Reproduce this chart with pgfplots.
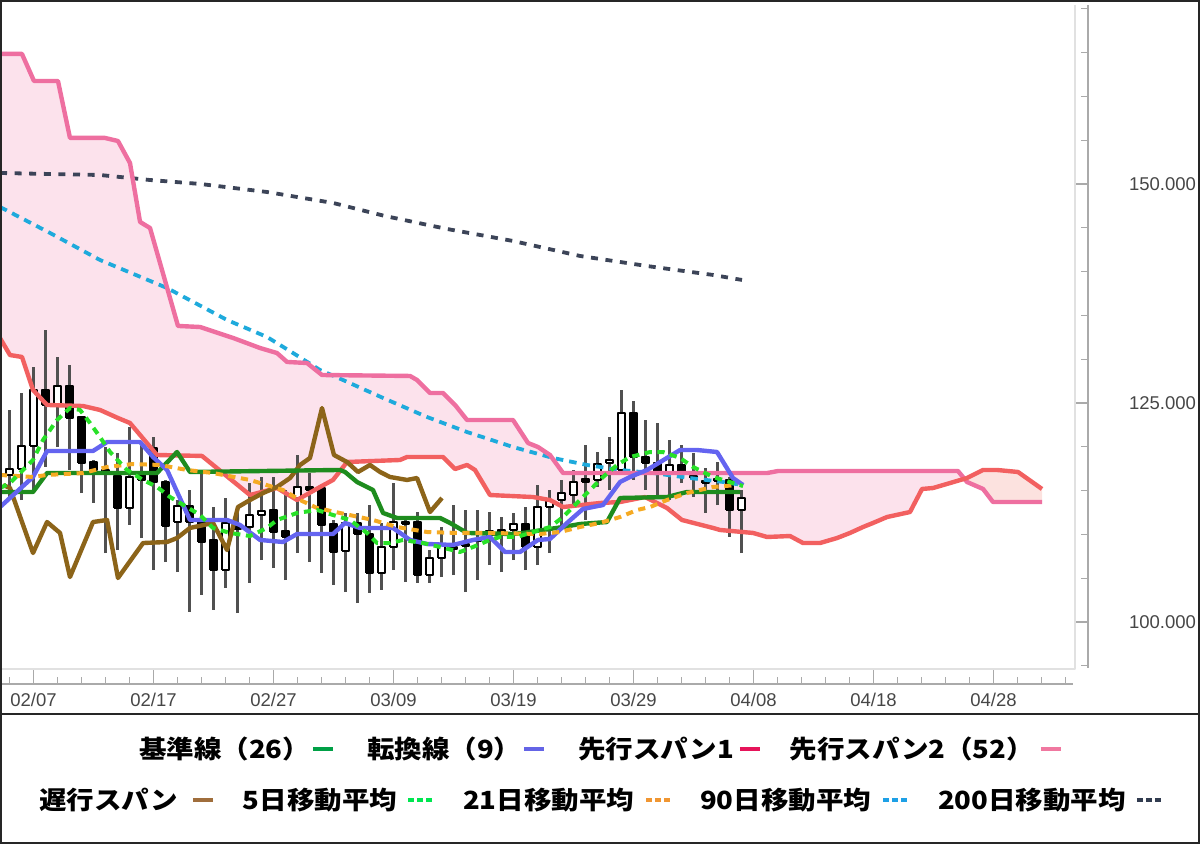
\documentclass[border=0pt]{standalone}
\usepackage{pgfplots}
\pgfplotsset{compat=1.18}
\usepgfplotslibrary{fillbetween}
\usepackage{pgfplotstable}
\usepackage{fontspec}
\setmainfont{Liberation Sans}
\newfontfamily\jp{Noto Sans CJK JP}[FakeStretch=1.1]

\definecolor{spanA}{RGB}{242,96,96}
\definecolor{spanB}{RGB}{238,111,160}
\definecolor{kijun}{RGB}{30,140,30}
\definecolor{tenkan}{RGB}{100,100,240}
\definecolor{chikou}{RGB}{140,100,25}
\definecolor{maF}{RGB}{40,225,40}
\definecolor{maT}{RGB}{245,170,35}
\definecolor{maN}{RGB}{30,170,220}
\definecolor{maH}{RGB}{60,68,88}
\definecolor{wick}{RGB}{80,80,80}
\definecolor{cloudB}{RGB}{240,110,160}
\definecolor{cloudA}{RGB}{242,110,96}
\definecolor{labgray}{RGB}{70,70,70}
\definecolor{axgray}{RGB}{170,170,170}
\definecolor{faint}{RGB}{225,225,225}
\definecolor{LkijunC}{RGB}{0,160,70}
\definecolor{LtenkanC}{RGB}{100,100,230}
\definecolor{LspanAC}{RGB}{230,20,90}
\definecolor{LspanBC}{RGB}{240,120,160}
\definecolor{LchikouC}{RGB}{160,110,60}
\definecolor{LmaF}{RGB}{0,230,80}
\definecolor{LmaT}{RGB}{240,150,50}
\definecolor{LmaN}{RGB}{30,160,230}
\definecolor{LmaH}{RGB}{50,60,80}

% candle: position, low, body bottom, body top, high, fill
\newcommand{\candle}[6]{%
  \pgfmathsetmacro\xa{#1-0.3}\pgfmathsetmacro\xb{#1+0.3}%
  \edef\tmpcandle{%
    \noexpand\addplot[wick, line width=1.1pt] coordinates {(#1,#2) (#1,#5)};
    \noexpand\addplot[draw=black, fill=#6, line width=0.65pt] coordinates {(\xa,#3) (\xb,#3) (\xb,#4) (\xa,#4) (\xa,#3)};}%
  \tmpcandle}
\newcommand{\ldash}[1]{\textcolor{#1}{\rule[\dimexpr0.38em-1pt\relax]{10pt}{2pt}}}
\newcommand{\ddash}[1]{\textcolor{#1}{\rule[\dimexpr0.38em-1pt\relax]{3pt}{2pt}\hspace{1.5pt}\rule[\dimexpr0.38em-1pt\relax]{3pt}{2pt}\hspace{1.5pt}\rule[\dimexpr0.38em-1pt\relax]{3pt}{2pt}}}

\pgfplotstableread{
x y
-2.79 164.84
-0.96 164.84
0.04 161.75
2.04 161.75
3.04 155.25
5.96 155.25
7.04 154.90
8.04 152.39
8.88 145.66
9.71 144.97
12.04 133.79
13.88 133.67
16.63 132.42
18.88 131.27
20.29 130.70
21.13 129.68
22.79 129.56
24.04 128.19
31.38 128.08
31.96 127.62
33.04 126.14
34.13 126.14
35.13 124.77
36.13 123.05
39.96 123.05
41.21 120.43
42.04 119.97
43.04 119.06
44.13 117.00
61.13 117.00
62.04 117.23
77.04 117.23
77.79 115.98
79.13 115.18
79.96 113.69
84.04 113.69
}\spanBtab

\pgfplotstableread{
x y
-2.79 132.40
-1.96 130.47
-0.96 130.25
-0.04 126.48
1.13 124.77
4.13 124.65
5.54 124.20
7.04 123.28
8.04 122.71
10.29 119.06
14.04 118.95
18.04 114.49
20.29 115.29
21.96 113.92
23.88 115.41
24.96 116.21
26.13 118.26
30.54 118.49
31.13 118.83
34.13 118.83
35.13 117.46
36.13 117.92
36.79 117.35
38.04 114.49
41.63 114.26
43.04 113.92
44.13 113.12
47.21 113.58
48.88 113.69
50.96 114.26
52.79 113.01
54.04 111.64
56.63 110.73
57.21 110.50
59.96 110.16
61.13 109.70
63.04 109.81
64.13 109.01
65.54 109.01
66.96 109.58
68.04 110.16
69.13 110.84
69.96 111.30
71.13 111.98
73.04 112.55
74.04 115.18
74.96 115.29
76.38 115.86
77.79 116.43
79.13 117.35
80.29 117.35
82.04 117.12
84.04 115.18
}\spanAtab

\pgfplotstableread{
x y
-2.79 114.84
-0.04 114.84
1.13 117.00
10.29 117.00
11.96 119.40
13.04 117.12
25.54 117.35
25.96 117.12
26.96 115.98
28.29 115.06
29.13 112.44
30.29 111.87
33.88 111.87
34.71 111.30
36.13 110.16
39.96 110.04
40.79 110.16
44.13 110.84
45.54 111.18
47.79 111.41
48.88 114.15
52.79 114.26
54.46 114.84
58.88 114.84
}\kijuntab

\pgfplotstableread{
x y
-2.79 113.12
-0.04 116.55
1.13 119.52
4.96 119.52
6.13 120.54
8.88 120.54
9.96 118.83
11.13 117.35
13.04 111.64
16.13 111.64
17.21 111.07
18.88 109.36
20.79 109.13
21.96 110.04
24.96 110.04
25.96 111.30
27.21 110.73
29.96 110.73
31.38 109.36
32.79 108.90
34.96 108.79
36.63 109.36
38.04 109.70
39.29 107.99
40.54 107.99
42.04 109.36
43.04 109.47
44.46 111.30
45.79 112.90
47.46 113.35
48.88 115.98
49.71 116.55
51.13 117.35
53.88 119.63
55.29 119.63
56.96 119.40
58.29 116.43
59.13 115.63
}\tenkantab

\pgfplotstableread{
x y
-2.54 115.63
-1.96 115.29
-0.04 107.87
1.13 111.41
2.21 110.16
3.04 105.13
4.96 111.41
6.13 111.64
7.04 105.02
9.13 109.01
11.13 109.13
11.96 109.58
13.04 110.73
14.96 111.30
16.13 108.21
17.04 113.12
18.04 113.92
19.13 114.72
20.29 115.41
21.38 116.43
22.21 117.92
23.04 118.72
24.04 124.42
25.04 119.06
26.13 118.26
27.04 117.12
28.04 117.92
28.88 117.12
29.71 116.55
31.13 116.21
31.96 116.43
33.04 112.55
34.04 114.15
}\chikoutab

\pgfplotstableread{
x y
-2.79 115.29
-1.96 115.86
-0.04 118.49
0.79 120.77
1.96 123.05
3.04 124.42
3.88 124.20
4.71 122.71
5.54 121.11
6.38 119.40
7.79 117.35
9.13 116.21
10.29 115.41
11.38 114.26
12.79 113.12
13.88 112.21
14.96 110.73
16.38 110.16
18.04 109.81
19.46 110.73
20.29 111.64
21.96 112.44
23.63 112.78
24.96 112.21
26.38 111.64
27.79 110.16
28.63 109.01
29.71 109.01
30.79 109.36
32.46 109.01
33.88 108.56
35.54 107.99
36.63 108.56
38.04 109.36
38.88 109.70
40.29 109.70
41.38 110.16
43.04 110.84
44.13 111.98
45.29 113.58
46.38 115.06
47.46 116.55
48.63 117.92
49.71 118.83
51.38 119.40
52.46 119.40
53.88 118.72
54.96 117.69
56.63 116.55
58.29 115.86
59.13 115.52
}\maFtab

\pgfplotstableread{
x y
-2.79 116.78
-0.04 116.55
1.13 116.78
4.13 117.00
6.13 117.69
8.29 118.03
10.54 117.92
12.79 117.35
14.96 117.00
18.04 116.21
20.79 115.06
22.21 113.92
23.63 113.01
25.54 112.44
28.29 111.64
30.29 110.84
32.79 110.27
35.29 110.16
38.04 110.16
42.21 110.04
43.88 110.27
45.54 110.84
47.21 111.30
48.88 111.98
50.29 112.78
51.38 113.12
52.79 113.92
54.46 114.72
56.63 115.41
58.63 115.63
}\maTtab

\pgfplotstableread{
x y
-2.79 147.37
1.38 144.40
5.54 141.32
11.13 138.12
16.13 134.47
19.46 132.53
21.63 130.70
23.88 128.76
25.79 127.62
29.13 125.57
32.79 123.40
36.13 121.68
39.96 119.97
43.29 118.72
46.13 117.92
48.88 117.35
51.63 117.00
54.71 116.43
57.46 115.98
59.13 115.63
}\maNtab

\pgfplotstableread{
x y
-2.79 151.25
5.54 151.02
9.71 150.45
13.88 150.00
19.46 149.08
24.96 147.83
29.29 146.34
34.46 144.86
39.96 143.49
45.54 141.78
51.13 140.63
56.63 139.61
59.04 139.04
}\maHtab

\begin{document}
\begin{tikzpicture}
\begin{axis}[
  at={(0pt,80pt)}, anchor=south west,
  width=544pt, height=342pt, scale only axis,
  xmin=-2.7917, xmax=87.875, ymin=92.92, ymax=171,
  clip=false,
  axis line style={draw=none},
  axis x line*=bottom, axis y line*=right,
  xtick={0,10,...,80},
  xticklabels={02/07,02/17,02/27,03/09,03/19,03/29,04/08,04/18,04/28},
  minor xtick={-2,0,...,86},
  ytick={100,125,150},
  yticklabels={100.000,125.000,150.000},
  minor ytick={95,100,...,170},
  tick align=inside,
  major tick length=7.25pt, minor tick length=3.5pt,
  major tick style={axgray, line width=0.6pt},
  minor tick style={axgray, line width=0.6pt},
  xticklabel style={font=\fontsize{9.25}{10}\selectfont, text=labgray, yshift=-1pt},
  yticklabel style={font=\fontsize{9.25}{10}\selectfont, text=labgray, anchor=west, xshift=17pt},
  line join=round,
]
% plot frame lines
\draw[faint, line width=0.6pt] (axis cs:86.79,170.43) -- (axis cs:86.79,94.63) -- (axis cs:-2.79,94.63);
\draw[axgray, line width=0.6pt] (axis cs:-2.7917,92.92) -- (axis cs:86.625,92.92);
\draw[axgray, line width=0.6pt] (axis cs:87.875,170.43) -- (axis cs:87.875,94.74);

\candle{-2}{113.92}{116.78}{117.46}{124.20}{white}
\candle{-1}{113.92}{117.46}{120.09}{126.14}{white}
\candle{0}{114.72}{120.09}{126.48}{129.11}{white}
\candle{1}{117.69}{124.77}{126.48}{133.33}{black}
\candle{2}{119.97}{124.88}{126.94}{130.25}{white}
\candle{3}{117.35}{123.28}{126.94}{129.33}{black}
\candle{4}{114.72}{118.15}{123.40}{123.40}{black}
\candle{5}{113.58}{117.35}{118.26}{118.49}{black}
\candle{6}{107.87}{117.12}{117.35}{119.97}{black}
\candle{7}{108.21}{113.01}{116.66}{119.29}{black}
\candle{8}{111.07}{113.01}{116.55}{122.26}{white}
\candle{9}{109.58}{116.21}{117.00}{120.20}{black}
\candle{10}{105.93}{115.98}{119.86}{121.11}{black}
\candle{11}{106.84}{110.95}{115.98}{116.21}{black}
\candle{12}{105.70}{111.41}{113.24}{113.92}{white}
\candle{13}{101.14}{111.41}{113.24}{115.06}{black}
\candle{14}{103.08}{109.13}{111.41}{117.12}{black}
\candle{15}{101.37}{105.93}{109.36}{113.12}{black}
\candle{16}{103.88}{105.93}{111.30}{114.15}{white}
\candle{17}{101.02}{110.61}{111.07}{112.44}{black}
\candle{18}{104.45}{110.84}{112.21}{115.86}{white}
\candle{19}{107.07}{112.21}{112.67}{116.55}{white}
\candle{20}{106.16}{110.27}{112.78}{116.55}{black}
\candle{21}{104.79}{109.70}{110.38}{115.06}{black}
\candle{22}{107.87}{114.15}{115.41}{119.06}{white}
\candle{23}{106.84}{115.06}{115.41}{117.00}{black}
\candle{24}{105.59}{111.07}{115.29}{115.29}{black}
\candle{25}{104.22}{107.99}{111.18}{111.64}{black}
\candle{26}{103.42}{108.10}{111.30}{112.44}{white}
\candle{27}{102.16}{110.04}{111.30}{112.44}{black}
\candle{28}{103.31}{105.59}{110.04}{113.35}{black}
\candle{29}{103.65}{105.59}{108.56}{111.30}{white}
\candle{30}{105.93}{108.56}{111.41}{115.86}{white}
\candle{31}{104.56}{111.18}{111.41}{111.64}{black}
\candle{32}{104.45}{105.36}{111.41}{112.55}{black}
\candle{33}{104.45}{105.36}{107.30}{108.21}{white}
\candle{34}{105.13}{107.30}{108.79}{110.84}{white}
\candle{35}{105.36}{108.33}{108.56}{113.35}{white}
\candle{36}{103.42}{108.67}{108.90}{112.78}{white}
\candle{37}{104.79}{109.25}{109.47}{112.78}{black}
\candle{38}{106.50}{109.93}{110.38}{112.55}{black}
\candle{39}{105.70}{110.16}{110.50}{111.98}{black}
\candle{40}{107.07}{110.50}{111.18}{112.44}{white}
\candle{41}{105.93}{108.56}{111.18}{113.12}{black}
\candle{42}{106.50}{108.56}{113.12}{115.63}{white}
\candle{43}{107.87}{113.12}{113.81}{115.06}{white}
\candle{44}{110.84}{113.92}{114.72}{116.21}{white}
\candle{45}{113.12}{114.49}{115.98}{117.35}{white}
\candle{46}{111.64}{115.98}{116.32}{120.20}{black}
\candle{47}{115.41}{116.21}{118.03}{119.40}{white}
\candle{48}{115.06}{118.15}{118.49}{121.11}{white}
\candle{49}{117.00}{117.35}{123.85}{126.48}{white}
\candle{50}{116.21}{118.83}{123.85}{125.22}{black}
\candle{51}{115.06}{118.15}{118.83}{123.05}{black}
\candle{52}{114.26}{117.23}{118.15}{122.71}{black}
\candle{53}{113.92}{117.12}{117.92}{120.77}{white}
\candle{54}{115.86}{117.12}{117.92}{120.20}{black}
\candle{55}{114.26}{116.43}{116.66}{119.29}{black}
\candle{56}{112.44}{115.86}{116.10}{117.58}{black}
\candle{57}{113.35}{116.10}{116.32}{118.26}{black}
\candle{58}{109.70}{112.78}{116.21}{116.55}{black}
\candle{59}{107.87}{112.78}{114.15}{115.06}{white}

% cloud
\addplot[draw=none, name path=SA] table {\spanAtab};
\addplot[draw=none, name path=SB] table {\spanBtab};
\addplot[fill=cloudB, fill opacity=0.2, draw=none] fill between[of=SA and SB, soft clip={(axis cs:-3,90) rectangle (axis cs:77.35,175)}];
\addplot[fill=cloudA, fill opacity=0.2, draw=none] fill between[of=SA and SB, soft clip={(axis cs:77.35,90) rectangle (axis cs:85,175)}];

% lines
\addplot[maH, line width=1.9pt, dash pattern=on 3.5pt off 3.8pt] table {\maHtab};
\addplot[maN, line width=1.9pt, dash pattern=on 3.8pt off 3pt] table {\maNtab};
\addplot[spanB, line width=2.2pt] table {\spanBtab};
\addplot[spanA, line width=2.2pt] table {\spanAtab};
\addplot[chikou, line width=2.2pt] table {\chikoutab};
\addplot[kijun, line width=2.2pt] table {\kijuntab};
\addplot[tenkan, line width=2.2pt] table {\tenkantab};
\addplot[maT, line width=2pt, dash pattern=on 3.6pt off 2.8pt] table {\maTtab};
\addplot[maF, line width=2pt, dash pattern=on 3.6pt off 2.8pt] table {\maFtab};
\end{axis}

% frame
\draw[black!85, line width=1pt] (0.5pt,0.5pt) rectangle (599.5pt,421.5pt);
\draw[black!85, line width=1pt] (0pt,65pt) -- (600pt,65pt);

% legend
\node[font=\jp\bfseries\fontsize{12.5}{14}\selectfont, inner sep=0pt] at (300pt,47.5pt)
 {基準線（26）\hspace{1.5pt}\ldash{LkijunC}\hspace{17pt}転換線（9）\hspace{1.5pt}\ldash{LtenkanC}\hspace{17pt}先行スパン1\hspace{3pt}\ldash{LspanAC}\hspace{15pt}先行スパン2（52）\hspace{3.5pt}\ldash{LspanBC}};
\node[font=\jp\bfseries\fontsize{12.5}{14}\selectfont, inner sep=0pt] at (300pt,22pt)
 {遅行スパン\hspace{7.5pt}\ldash{LchikouC}\hspace{15pt}5日移動平均\hspace{5.5pt}\ddash{LmaF}\hspace{15.5pt}21日移動平均\hspace{6pt}\ddash{LmaT}\hspace{15pt}90日移動平均\hspace{6pt}\ddash{LmaN}\hspace{15.5pt}200日移動平均\hspace{5.5pt}\ddash{LmaH}};
\pgfresetboundingbox
\path[use as bounding box] (0,0) rectangle (600pt,422pt);
\end{tikzpicture}
\end{document}
